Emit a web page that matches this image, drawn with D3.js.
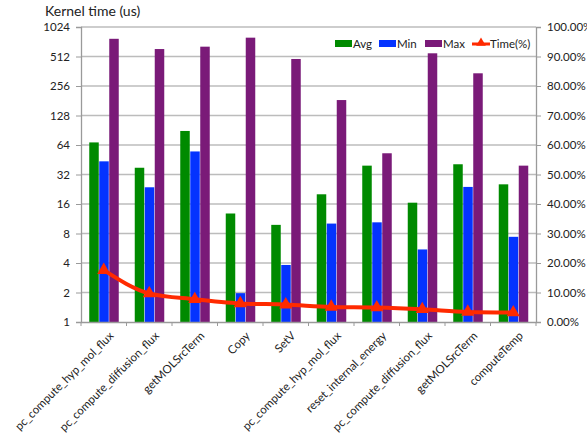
<!DOCTYPE html>
<html><head><meta charset="utf-8">
<script src="https://cdn.jsdelivr.net/npm/d3@7"></script>
<style>
body{margin:0;background:#fff;}
text{font-family:Lato,"Open Sans","Liberation Sans",sans-serif;fill:#222;}
</style></head>
<body><svg id="c" width="587" height="440"></svg>
<script>
const categories = ["pc_compute_hyp_mol_flux","pc_compute_diffusion_flux","getMOLSrcTerm","Copy","SetV","pc_compute_hyp_mol_flux","reset_internal_energy","pc_compute_diffusion_flux","getMOLSrcTerm","computeTemp"];
const avgVals = [68, 37.5, 89, 12.8, 9.8, 20.1, 39.4, 16.5, 40.7, 25.4];
const minVals = [43.6, 23.7, 55, 1.97, 3.82, 10.1, 10.4, 5.5, 23.9, 7.4];
const maxVals = [776, 610, 645, 797, 483, 184, 52.7, 552, 345, 39.4];
const timePct = [17.6, 9.7, 7.7, 6.3, 5.9, 5.1, 4.9, 4.3, 3.4, 3.2];
const leftTicks = [1,2,4,8,16,32,64,128,256,512,1024];
const rightTicks = [0,10,20,30,40,50,60,70,80,90,100];
const seriesNames = ["Avg","Min","Max"];
const seriesColors = ["#008a00","#0433ff","#7a1a78"];
const lineColor = "#ff2a00";

const svg = d3.select("#c");
const L=81, R=536, T=27, B=322;
const x = d3.scaleBand().domain(d3.range(categories.length)).range([L,R]).paddingInner(0).paddingOuter(0);
const inner = d3.scaleBand().domain([0,1,2]).range([0,30]);
const y = d3.scaleLog().base(2).domain([1,1024]).range([B,T]);
const y2 = d3.scaleLinear().domain([0,100]).range([B,T]);

// gridlines
svg.append("g").selectAll("line").data(leftTicks.slice(1)).join("line")
  .attr("x1",L).attr("x2",R).attr("y1",d=>y(d)).attr("y2",d=>y(d))
  .attr("stroke","#bcbcbc").attr("stroke-width",1.3);

// bars
const series=[avgVals,minVals,maxVals];
series.forEach((vals,si)=>{
  svg.append("g").selectAll("rect").data(vals).join("rect")
    .attr("x",(d,i)=>x(i)+x.bandwidth()/2-15+inner(si)+0.5)
    .attr("width",inner.bandwidth()-0.5)
    .attr("y",d=>y(d)).attr("height",d=>B-y(d))
    .attr("fill",seriesColors[si]);
});

// axes
const gl = svg.append("g").attr("transform",`translate(${L},0)`)
  .call(d3.axisLeft(y).tickValues(leftTicks).tickFormat(d3.format("d")).tickSize(5).tickPadding(6));
const gr = svg.append("g").attr("transform",`translate(${R},0)`)
  .call(d3.axisRight(y2).tickValues(rightTicks).tickFormat(d=>d.toFixed(2)+"%").tickSize(5).tickPadding(6));
const gb = svg.append("g").attr("transform",`translate(0,${B})`)
  .call(d3.axisBottom(x).tickSize(0).tickFormat(i=>categories[i]));
[gl,gr,gb].forEach(g=>{
  g.selectAll("path.domain").attr("stroke","#9a9a9a").attr("stroke-width",1.3);
  g.selectAll(".tick line").attr("stroke","#9a9a9a");
  g.selectAll("text").style("font-size","11.5px").attr("fill","#222");
});
gb.selectAll(".tick text").attr("text-anchor","end")
  .attr("transform","translate(6,10) rotate(-45)").attr("dy","0.3em");
// x boundary ticks
svg.append("g").selectAll("line").data(d3.range(categories.length+1)).join("line")
  .attr("x1",i=>L+i*x.step()).attr("x2",i=>L+i*x.step())
  .attr("y1",B).attr("y2",B+4).attr("stroke","#9a9a9a");

// line
const line = d3.line().x((d,i)=>x(i)+x.bandwidth()/2).y(d=>y2(d)).curve(d3.curveMonotoneX);
svg.append("path").datum(timePct).attr("d",line).attr("fill","none")
  .attr("stroke",lineColor).attr("stroke-width",4);
const tri = d3.symbol().type(d3.symbolTriangle).size(75);
svg.append("g").selectAll("path").data(timePct).join("path")
  .attr("d",tri).attr("transform",(d,i)=>`translate(${x(i)+x.bandwidth()/2},${y2(d)})`)
  .attr("fill",lineColor);

// title
svg.append("text").attr("x",45).attr("y",16).style("font-size","14px").text("Kernel time (us)");

// legend
const lg = svg.append("g");
const lx=[335,379,425];
seriesNames.forEach((n,i)=>{
  lg.append("rect").attr("x",lx[i]).attr("y",40).attr("width",17).attr("height",7).attr("fill",seriesColors[i]);
  lg.append("text").attr("x",lx[i]+18).attr("y",48).style("font-size","11.5px").text(n);
});
lg.append("line").attr("x1",472).attr("x2",490).attr("y1",44).attr("y2",44).attr("stroke",lineColor).attr("stroke-width",3);
lg.append("path").attr("d",d3.symbol().type(d3.symbolTriangle).size(40)).attr("transform","translate(481,43)").attr("fill",lineColor);
lg.append("text").attr("x",490).attr("y",48).style("font-size","11.5px").text("Time(%)");
</script></body></html>
